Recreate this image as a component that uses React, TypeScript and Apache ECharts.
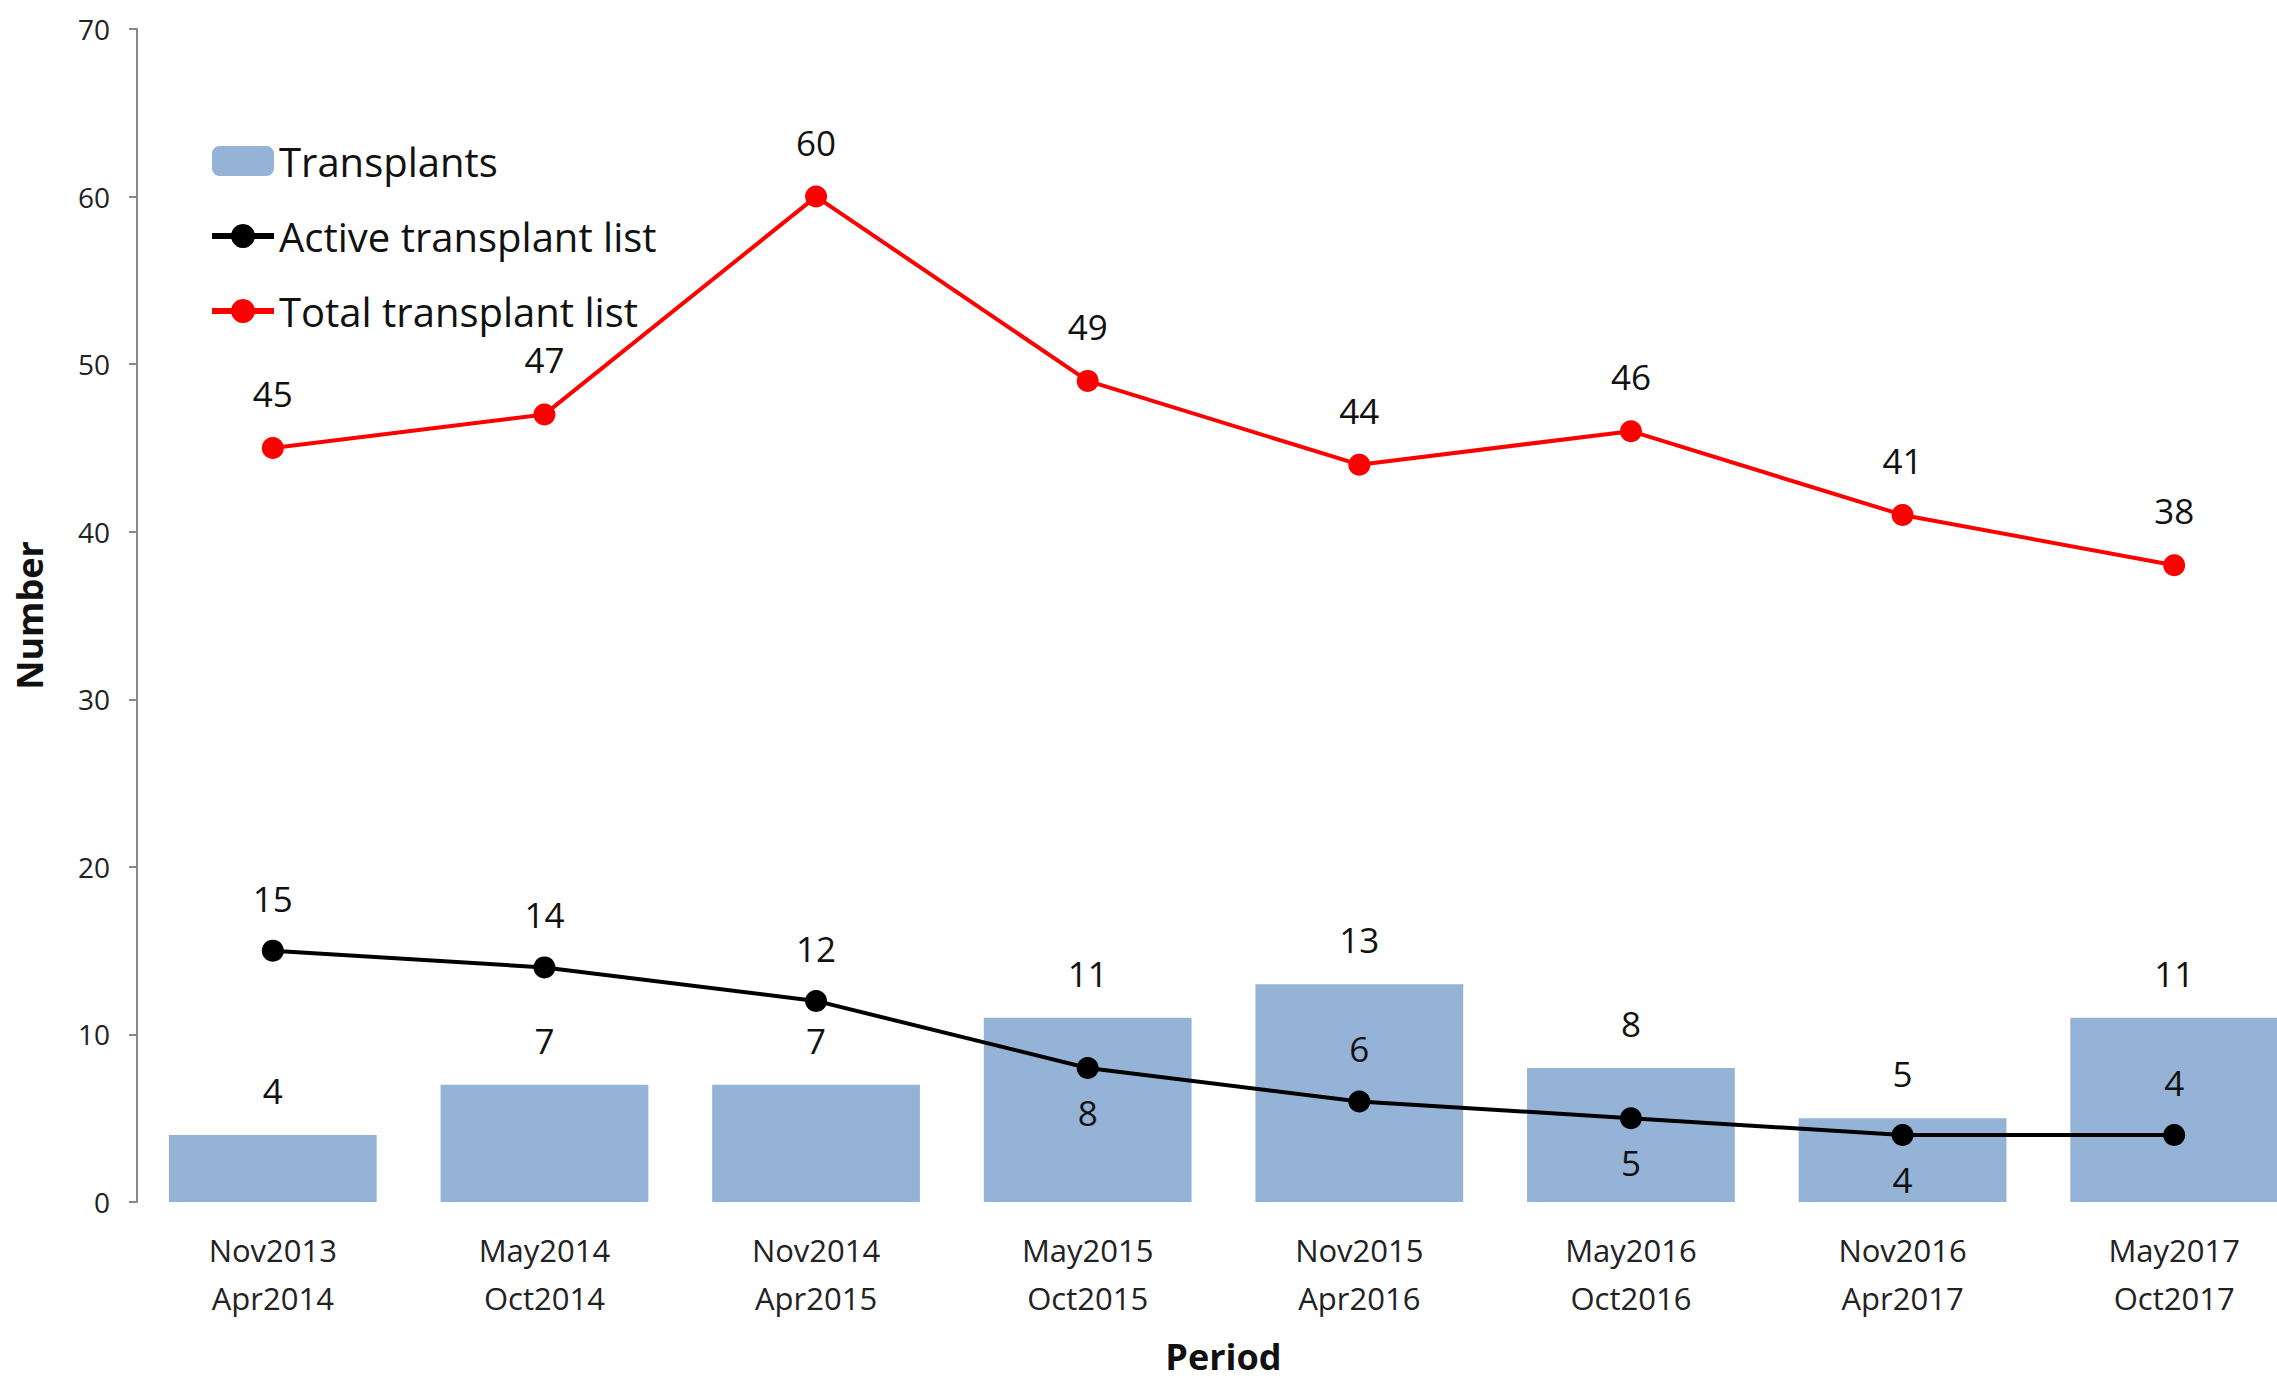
import React, { useEffect, useRef } from "react";
import * as echarts from "echarts";

const categories = [
  "Nov2013\nApr2014",
  "May2014\nOct2014",
  "Nov2014\nApr2015",
  "May2015\nOct2015",
  "Nov2015\nApr2016",
  "May2016\nOct2016",
  "Nov2016\nApr2017",
  "May2017\nOct2017",
];
const transplants = [4, 7, 7, 11, 13, 8, 5, 11];
const activeList = [15, 14, 12, 8, 6, 5, 4, 4];
const activeLabelPos = ["top", "top", "top", "bottom", "top", "bottom", "bottom", "top"];
const totalList = [45, 47, 60, 49, 44, 46, 41, 38];

const FONT = "'Open Sans', Lato, 'Liberation Sans', Arial, sans-serif";

export default function App() {
  const ref = useRef<HTMLDivElement>(null);
  useEffect(() => {
    if (!ref.current) return;
    const chart = echarts.init(ref.current, undefined, { renderer: "svg" });
    chart.setOption({
      animation: false,
      backgroundColor: "#ffffff",
      textStyle: { fontFamily: FONT },
      legend: {
        orient: "vertical",
        left: 204,
        top: 135,
        itemWidth: 62,
        itemHeight: 30,
        itemGap: 33,
        lineStyle: { width: 6 },
        textStyle: { fontSize: 40, lineHeight: 42, color: "#111", fontFamily: FONT },
        data: ["Transplants", "Active transplant list", "Total transplant list"],
      },
      grid: { left: 137, top: 29, right: 0, bottom: 171 },
      xAxis: {
        type: "category",
        data: categories,
        name: "Period",
        nameLocation: "middle",
        nameGap: 136,
        nameTextStyle: { fontSize: 36, fontWeight: "bold", color: "#111", fontFamily: FONT },
        axisLine: { show: false },
        axisTick: { show: false },
        axisLabel: {
          fontSize: 31,
          color: "#222",
          lineHeight: 48,
          margin: 24,
          fontFamily: FONT,
        },
      },
      yAxis: {
        type: "value",
        min: 0,
        max: 70,
        interval: 10,
        name: "Number",
        nameLocation: "middle",
        nameGap: 90,
        nameTextStyle: { fontSize: 36, fontWeight: "bold", color: "#111", fontFamily: FONT },
        axisLine: { show: true, lineStyle: { color: "#888", width: 2 } },
        axisTick: { show: true, length: 8, lineStyle: { color: "#888", width: 2 } },
        splitLine: { show: false },
        axisLabel: { fontSize: 28, color: "#222", margin: 27, fontFamily: FONT },
      },
      series: [
        {
          name: "Transplants",
          type: "bar",
          data: transplants,
          barCategoryGap: "23.5%",
          itemStyle: { color: "#95B3D7" },
          label: {
            show: true,
            position: "top",
            distance: 27,
            fontSize: 35,
            color: "#111",
            fontFamily: FONT,
          },
        },
        {
          name: "Active transplant list",
          type: "line",
          data: activeList.map((v, i) => ({
            value: v,
            label: {
              position: activeLabelPos[i],
              distance: activeLabelPos[i] === "bottom" ? 16 : 24,
            },
          })),
          symbol: "circle",
          symbolSize: 22,
          lineStyle: { color: "#000", width: 4 },
          itemStyle: { color: "#000" },
          label: {
            show: true,
            fontSize: 35,
            color: "#111",
            fontFamily: FONT,
          },
        },
        {
          name: "Total transplant list",
          type: "line",
          data: totalList,
          symbol: "circle",
          symbolSize: 22,
          lineStyle: { color: "#FF0000", width: 4 },
          itemStyle: { color: "#FF0000" },
          label: {
            show: true,
            position: "top",
            distance: 26,
            fontSize: 35,
            color: "#111",
            fontFamily: FONT,
          },
        },
      ],
    });
    return () => chart.dispose();
  }, []);
  return (
    <div
      ref={ref}
      style={{ position: "fixed", left: 0, top: 0, width: 2310, height: 1379, background: "#fff" }}
    />
  );
}
